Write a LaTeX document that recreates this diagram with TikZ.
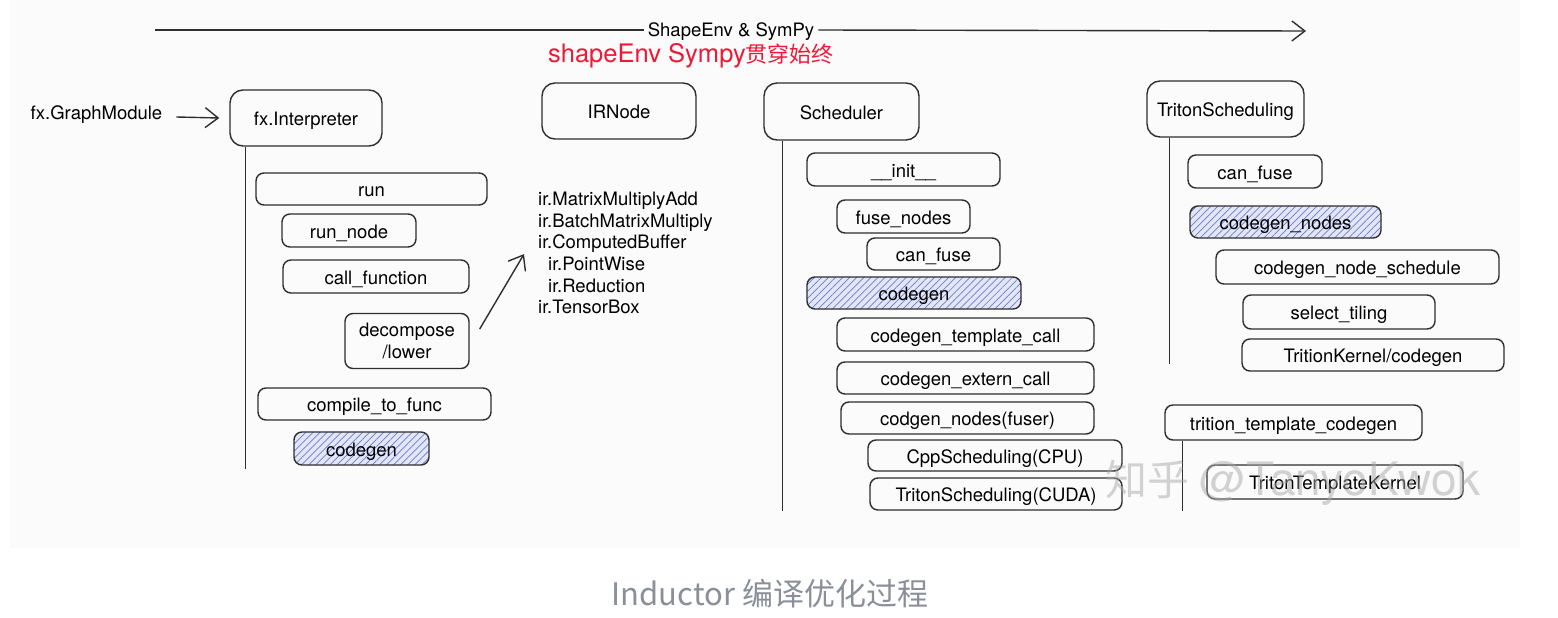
\documentclass[tikz,border=0pt]{standalone}
\usepackage{fontspec}
\setmainfont{TeX Gyre Heros}
\newfontfamily\cjk{Noto Sans CJK SC}
\usetikzlibrary{arrows.meta,patterns.meta}
\definecolor{ink}{HTML}{2E2E2E}
\definecolor{panel}{HTML}{FBFBFB}
\definecolor{hatchbg}{HTML}{E2E6F7}
\definecolor{hatchln}{HTML}{6A7CC8}
\definecolor{redtxt}{HTML}{F01838}
\definecolor{captxt}{HTML}{8A8F99}
\definecolor{wmark}{HTML}{A8A8A8}
\newcommand{\bxfont}{\fontsize{18.5}{21.6}\selectfont}
\begin{document}
\begin{tikzpicture}[x=1pt,y=-1pt,
  box/.style n args={2}{draw=ink, line width=1.4pt, rounded corners=8pt,
    minimum width=#1, minimum height=#2, inner sep=0pt, font=\bxfont, align=center,
    text height=17pt, text depth=2pt},
  bigbox/.style n args={2}{box={#1}{#2}, rounded corners=13pt},
  multi/.style={text height=, text depth=},
  hatched/.style={preaction={fill=hatchbg},
    pattern={Lines[angle=45,distance=5pt,line width=0.7pt]}, pattern color=hatchln},
  plain/.style={font=\bxfont, inner sep=0pt, text height=16pt, text depth=2pt},
  vline/.style={draw=ink, line width=1.5pt},
  arr/.style={draw=ink, line width=1.4pt,
    -{Straight Barb[length=13pt,width=20pt,line width=1.4pt]}}
]
\useasboundingbox (0,0) rectangle (1558,618);
\fill[white] (0,0) rectangle (1558,618);
\fill[panel] (10,0) rectangle (1520,548);

% top arrow
\coordinate (ts) at (155,30);
\coordinate (te) at (1306,31);
\node[plain] (shp) at (731,30) {ShapeEnv \& SymPy};
\draw[vline] (ts) -- ([xshift=-4pt]shp.west);
\draw[arr] ([xshift=4pt]shp.east) -- (te);
\node[inner sep=0pt, text=redtxt] (red) at (691,56)
  {\fontsize{25.5}{28}\selectfont shapeEnv Sympy{\cjk\fontsize{22}{26}\selectfont 贯穿始终}};

% fx column
\node[plain] (gm) at (96.5,112) {fx.GraphModule};
\node[bigbox={152}{56}] (fxi) at (306,118) {fx.Interpreter};
\draw[arr] ([xshift=14pt,yshift=-5pt]gm.east) -- ([xshift=-10pt]fxi.west);
\draw[vline] ([xshift=16pt]fxi.south west) -- ++(0,322);
\node[box={231}{32}] (run) at (371.5,189) {run};
\node[box={134}{33}] (runnode) at (349,230.5) {run\_node};
\node[box={186}{33}] (callf) at (376,276.5) {call\_function};
\node[box={124}{55}, multi] (dec) at (407,341) {decompose\\/lower};
\node[box={233}{32}] (ctf) at (374.5,404) {compile\_to\_func};
\node[box={135}{33}, hatched] (cg1) at (361.5,448.5) {codegen};

% IR column
\node[bigbox={154}{56}] (ir) at (619,111) {IRNode};
\node[plain, multi, anchor=north west, align=left] (irl) at (538,192)
  {ir.MatrixMultiplyAdd\\ir.BatchMatrixMultiply\\ir.ComputedBuffer\\
   \hspace*{10pt}ir.PointWise\\\hspace*{10pt}ir.Reduction\\ir.TensorBox};
\draw[arr] ([xshift=10pt,yshift=12pt]dec.east) -- ([xshift=-14pt,yshift=-1pt]irl.west);

% Scheduler column
\node[bigbox={155}{57}] (sch) at (841.5,111.5) {Scheduler};
\draw[vline] ([xshift=19pt]sch.south west) -- ++(0,370);
\node[box={193}{33}] (init) at (903.5,169.5) {\_\_init\_\_};
\node[box={133}{33}] (fuse) at (903.5,216.5) {fuse\_nodes};
\node[box={133}{32}] (canf) at (933.5,254) {can\_fuse};
\node[box={214}{32}, hatched] (cg2) at (914,293) {codegen};
\node[box={257}{33}] (tmpl) at (965.5,334.5) {codegen\_template\_call};
\node[box={257}{32}] (ext) at (965.5,378) {codegen\_extern\_call};
\node[box={253}{32}] (cgn) at (967.5,418) {codgen\_nodes(fuser)};
\node[box={254}{31}] (cpp) at (995,455.5) {CppScheduling(CPU)};
\node[box={252}{32}] (tcuda) at (996,494) {TritonScheduling(CUDA)};

% TritonScheduling column
\node[bigbox={157}{56}] (ts2) at (1225.5,109) {TritonScheduling};
\draw[vline] ([xshift=23pt]ts2.south west) -- ++(0,226);
\node[box={134}{33}] (canf2) at (1255,171.5) {can\_fuse};
\node[box={191}{32}, hatched] (cgn2) at (1285.5,222) {codegen\_nodes};
\node[box={283}{34}] (cns) at (1357.5,267) {codegen\_node\_schedule};
\node[box={192}{34}] (sel) at (1339,312) {select\_tiling};
\node[box={262}{32}] (tkc) at (1373,355) {TritionKernel/codegen};
\node[box={257}{35}] (ttc) at (1293.5,422.5) {trition\_template\_codegen};
\draw[vline] ([xshift=18pt]ttc.south west) -- ++(0,70);
\node[box={256}{34}] (ttk) at (1335,482) {TritonTemplateKernel};

% watermark
\node[inner sep=0pt, text=wmark, opacity=0.5] (wm) at (1293,483)
  {{\cjk\fontsize{42}{46}\selectfont 知乎}\hspace{10pt}{\fontsize{46}{50}\selectfont @TanyoKwok}};

% caption
\node[inner sep=0pt, text=captxt, font=\cjk\fontsize{31}{34}\selectfont] (cap) at (770,594)
  {Inductor 编译优化过程};
\end{tikzpicture}
\end{document}
